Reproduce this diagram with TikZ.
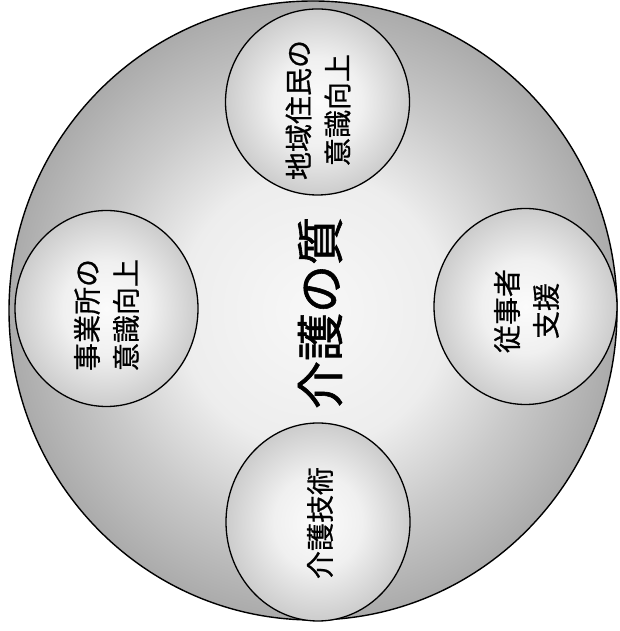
\documentclass[tikz,border=0pt]{standalone}
\usepackage{fontspec}
\newfontfamily\jp[FakeBold=0.7]{Noto Sans CJK JP}
\newfontfamily\jpt[FakeBold=1.2]{Noto Sans CJK JP}
\pgfdeclareradialshading{bigsh}{\pgfpoint{0bp}{0bp}}{color(0bp)=(gray!6); color(11bp)=(gray!14); color(18bp)=(gray!42); color(25bp)=(gray!66); color(50bp)=(gray!66)}
\pgfdeclareradialshading{smallsh}{\pgfpoint{0bp}{0bp}}{color(0bp)=(gray!3); color(12bp)=(gray!12); color(25bp)=(gray!40); color(50bp)=(gray!40)}
\begin{document}
\begin{tikzpicture}[x=1pt,y=1pt,
  bigc/.style={draw=black, line width=1.4pt, shading=bigsh},
  smallc/.style={draw=black, line width=1.3pt, shading=smallsh},
  lbl/.style={rotate=90, align=center, font={\jp\fontsize{28}{39}\selectfont}, inner sep=0pt},
  ttl/.style={rotate=90, align=center, font={\jpt\fontsize{48}{56}\selectfont}, inner sep=0pt}]
\useasboundingbox (0,0) rectangle (619,631);
\path[bigc] (313,320.5) ellipse [x radius=304, y radius=309.5];
\path[smallc] (317.5,529) ellipse [x radius=92, y radius=93];
\path[smallc] (106.5,322.5) ellipse [x radius=91.5, y radius=98];
\path[smallc] (525.5,324.5) ellipse [x radius=91.5, y radius=98];
\path[smallc] (318,109) ellipse [x radius=92, y radius=99];
\node[ttl] (title) at (320,318) {介護の質};
\node[lbl] (top) at (318,521) {地域住民の\\意識向上};
\node[lbl] (left) at (106.5,316) {事業所の\\意識向上};
\node[lbl] (right) at (526.5,320) {従事者\\支援};
\node[lbl] (bottom) at (320,108) {介護技術};
\end{tikzpicture}
\end{document}
